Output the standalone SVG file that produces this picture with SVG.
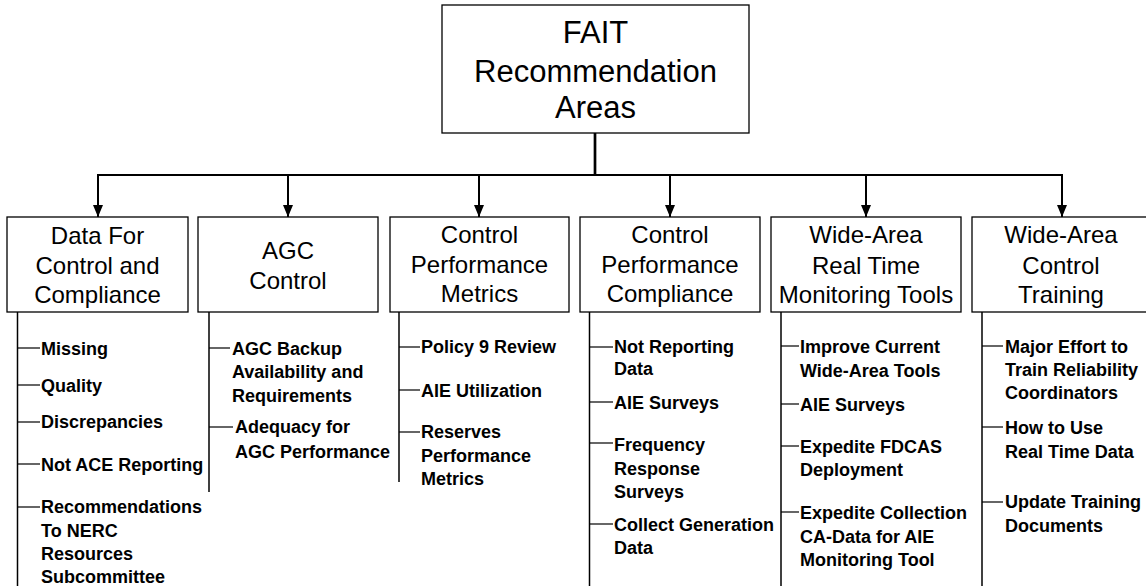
<svg xmlns="http://www.w3.org/2000/svg" width="1146" height="586" viewBox="0 0 1146 586">
<style>
.box{fill:#fff;stroke:#000;stroke-width:1.3}
.hdr{font-family:"Liberation Sans",Arial,sans-serif;font-size:24px;text-anchor:middle;fill:#000}
.top{font-family:"Liberation Sans",Arial,sans-serif;font-size:31px;text-anchor:middle;fill:#000}
.it{font-family:"Liberation Sans",Arial,sans-serif;font-size:18px;font-weight:bold;fill:#000}
.bus{stroke:#000;stroke-width:2;fill:none}
.trunk{stroke:#000;stroke-width:2.7;fill:none}
.col{stroke:#000;stroke-width:1.5;fill:none}
.tick{stroke:#000;stroke-width:1.2;fill:none}
</style>
<defs>
<marker id="ah" markerUnits="userSpaceOnUse" markerWidth="12" markerHeight="14" refX="12" refY="5" orient="auto">
<path d="M0,0 L12,5 L0,10 Z" fill="#000"/>
</marker>
</defs>
<rect width="1146" height="586" fill="#fff"/>

<g id="connectors">
<line class="trunk" x1="595" y1="133" x2="595" y2="175"/>
<line class="bus" x1="97" y1="175" x2="1063" y2="175"/>
<line class="bus" x1="98" y1="175" x2="98" y2="217" marker-end="url(#ah)"/>
<line class="bus" x1="288" y1="175" x2="288" y2="217" marker-end="url(#ah)"/>
<line class="bus" x1="479" y1="175" x2="479" y2="217" marker-end="url(#ah)"/>
<line class="bus" x1="670" y1="175" x2="670" y2="217" marker-end="url(#ah)"/>
<line class="bus" x1="866" y1="175" x2="866" y2="217" marker-end="url(#ah)"/>
<line class="bus" x1="1062" y1="175" x2="1062" y2="217" marker-end="url(#ah)"/>
<line class="col" x1="17.5" y1="312" x2="17.5" y2="586"/>
<line class="col" x1="209" y1="312" x2="209" y2="492"/>
<line class="col" x1="399" y1="312" x2="399" y2="482"/>
<line class="col" x1="589.5" y1="312" x2="589.5" y2="586"/>
<line class="col" x1="781" y1="312" x2="781" y2="586"/>
<line class="col" x1="982" y1="312" x2="982" y2="586"/>
<line class="tick" x1="17.5" y1="348" x2="40" y2="348"/>
<line class="tick" x1="17.5" y1="385" x2="40" y2="385"/>
<line class="tick" x1="17.5" y1="422" x2="40" y2="422"/>
<line class="tick" x1="17.5" y1="464" x2="40" y2="464"/>
<line class="tick" x1="17.5" y1="507" x2="40" y2="507"/>
<line class="tick" x1="209" y1="348" x2="230" y2="348"/>
<line class="tick" x1="209" y1="427" x2="233" y2="427"/>
<line class="tick" x1="399" y1="347" x2="420" y2="347"/>
<line class="tick" x1="399" y1="390" x2="420" y2="390"/>
<line class="tick" x1="399" y1="432" x2="420" y2="432"/>
<line class="tick" x1="589.5" y1="347" x2="613" y2="347"/>
<line class="tick" x1="589.5" y1="402" x2="613" y2="402"/>
<line class="tick" x1="589.5" y1="443" x2="613" y2="443"/>
<line class="tick" x1="589.5" y1="524" x2="613" y2="524"/>
<line class="tick" x1="781" y1="346" x2="799" y2="346"/>
<line class="tick" x1="781" y1="404" x2="799" y2="404"/>
<line class="tick" x1="781" y1="446" x2="799" y2="446"/>
<line class="tick" x1="781" y1="512" x2="799" y2="512"/>
<line class="tick" x1="982" y1="346" x2="1003" y2="346"/>
<line class="tick" x1="982" y1="427" x2="1003" y2="427"/>
<line class="tick" x1="982" y1="502" x2="1003" y2="502"/>
</g>

<g id="root">
<rect class="box" x="442" y="5" width="307" height="128"/>
<text class="top" x="595.5" y="43">FAIT</text>
<text class="top" x="595.5" y="81.5">Recommendation</text>
<text class="top" x="595.5" y="118">Areas</text>
</g>

<g id="data-for-control">
<rect class="box" x="7" y="217" width="181" height="95"/>
<text class="hdr" x="97.5" y="244">Data For</text>
<text class="hdr" x="97.5" y="274">Control and</text>
<text class="hdr" x="97.5" y="303">Compliance</text>
</g>
<g id="agc-control">
<rect class="box" x="198" y="217" width="180" height="95"/>
<text class="hdr" x="288" y="259">AGC</text>
<text class="hdr" x="288" y="289">Control</text>
</g>
<g id="cp-metrics">
<rect class="box" x="390" y="217" width="179" height="95"/>
<text class="hdr" x="479.5" y="243">Control</text>
<text class="hdr" x="479.5" y="273">Performance</text>
<text class="hdr" x="479.5" y="302">Metrics</text>
</g>
<g id="cp-compliance">
<rect class="box" x="580" y="217" width="180" height="95"/>
<text class="hdr" x="670" y="243">Control</text>
<text class="hdr" x="670" y="273">Performance</text>
<text class="hdr" x="670" y="302">Compliance</text>
</g>
<g id="wa-monitoring">
<rect class="box" x="771" y="217" width="190" height="95"/>
<text class="hdr" x="866" y="243">Wide-Area</text>
<text class="hdr" x="866" y="274">Real Time</text>
<text class="hdr" x="866" y="303">Monitoring Tools</text>
</g>
<g id="wa-training">
<rect class="box" x="972" y="217" width="180" height="95"/>
<text class="hdr" x="1061" y="243">Wide-Area</text>
<text class="hdr" x="1061" y="274">Control</text>
<text class="hdr" x="1061" y="303">Training</text>
</g>

<g id="items-col1">
<text class="it" x="41" y="355">Missing</text>
<text class="it" x="41" y="392">Quality</text>
<text class="it" x="41" y="428">Discrepancies</text>
<text class="it" x="41" y="471">Not ACE Reporting</text>
<text class="it" x="41" y="513">Recommendations</text>
<text class="it" x="41" y="537">To NERC</text>
<text class="it" x="41" y="560">Resources</text>
<text class="it" x="41" y="583">Subcommittee</text>
</g>
<g id="items-col2">
<text class="it" x="232" y="355">AGC Backup</text>
<text class="it" x="232" y="378">Availability and</text>
<text class="it" x="232" y="402">Requirements</text>
<text class="it" x="235" y="433">Adequacy for</text>
<text class="it" x="235" y="458">AGC Performance</text>
</g>
<g id="items-col3">
<text class="it" x="421" y="353">Policy 9 Review</text>
<text class="it" x="421" y="397">AIE Utilization</text>
<text class="it" x="421" y="438">Reserves</text>
<text class="it" x="421" y="462">Performance</text>
<text class="it" x="421" y="485">Metrics</text>
</g>
<g id="items-col4">
<text class="it" x="614" y="353">Not Reporting</text>
<text class="it" x="614" y="375">Data</text>
<text class="it" x="614" y="409">AIE Surveys</text>
<text class="it" x="614" y="451">Frequency</text>
<text class="it" x="614" y="475">Response</text>
<text class="it" x="614" y="498">Surveys</text>
<text class="it" x="614" y="531">Collect Generation</text>
<text class="it" x="614" y="554">Data</text>
</g>
<g id="items-col5">
<text class="it" x="800" y="353">Improve Current</text>
<text class="it" x="800" y="377">Wide-Area Tools</text>
<text class="it" x="800" y="411">AIE Surveys</text>
<text class="it" x="800" y="453">Expedite FDCAS</text>
<text class="it" x="800" y="476">Deployment</text>
<text class="it" x="800" y="519">Expedite Collection</text>
<text class="it" x="800" y="543">CA-Data for AIE</text>
<text class="it" x="800" y="566">Monitoring Tool</text>
</g>
<g id="items-col6">
<text class="it" x="1005" y="353">Major Effort to</text>
<text class="it" x="1005" y="376">Train Reliability</text>
<text class="it" x="1005" y="399">Coordinators</text>
<text class="it" x="1005" y="434">How to Use</text>
<text class="it" x="1005" y="458">Real Time Data</text>
<text class="it" x="1005" y="508">Update Training</text>
<text class="it" x="1005" y="532">Documents</text>
</g>
</svg>
